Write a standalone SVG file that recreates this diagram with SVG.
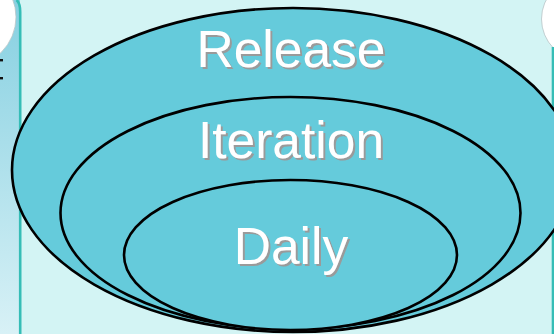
<svg xmlns="http://www.w3.org/2000/svg" width="554" height="334" viewBox="0 0 554 334">
  <defs>
    <linearGradient id="strip" x1="0" y1="0" x2="0" y2="1">
      <stop offset="0" stop-color="#86d0e1"/>
      <stop offset="1" stop-color="#d8f1f6"/>
    </linearGradient>
    <filter id="sh" x="-10%" y="-20%" width="130%" height="150%">
      <feDropShadow dx="2" dy="2" stdDeviation="0.4" flood-color="#9a9a9a" flood-opacity="1"/>
    </filter>
  </defs>
  <style>
    .ring { fill: #65cbdb; stroke: #000; stroke-width: 2.6; }
    .lbl { font-family: "Liberation Sans", Arial, sans-serif; font-size: 51.5px; text-anchor: middle; fill: #ffffff; filter: url(#sh); }
    .teal { stroke: #35bdb6; stroke-width: 2.6; fill: none; }
    .blob { fill: #ffffff; stroke: #b8c4c6; stroke-width: 0.8; }
  </style>

  <g id="background">
    <rect x="0" y="0" width="554" height="334" fill="#d3f4f4"/>
    <rect x="0" y="0" width="20" height="334" fill="url(#strip)"/>
    <circle class="blob" cx="-33.7" cy="17" r="49.7"/>
    <path class="teal" d="M 16.5 0 Q 20.2 3 20.2 12 L 20.2 334"/>
    <circle class="blob" cx="583" cy="19" r="41.5"/>
    <line class="teal" x1="553" y1="47" x2="553" y2="334"/>
    <rect x="0" y="59" width="3" height="2.4" fill="#111"/>
    <rect x="0" y="77" width="3" height="2.4" fill="#111"/>
  </g>

  <g id="release">
    <ellipse class="ring" cx="293" cy="170" rx="281" ry="162"/>
    <text class="lbl" x="291" y="67">Release</text>
  </g>

  <g id="iteration">
    <ellipse class="ring" cx="290.5" cy="213" rx="230" ry="116"/>
    <text class="lbl" x="291" y="158">Iteration</text>
  </g>

  <g id="daily">
    <ellipse class="ring" cx="290.5" cy="255" rx="166.5" ry="75"/>
    <text class="lbl" x="291" y="264">Daily</text>
  </g>

  <g id="connectors"/>
</svg>
